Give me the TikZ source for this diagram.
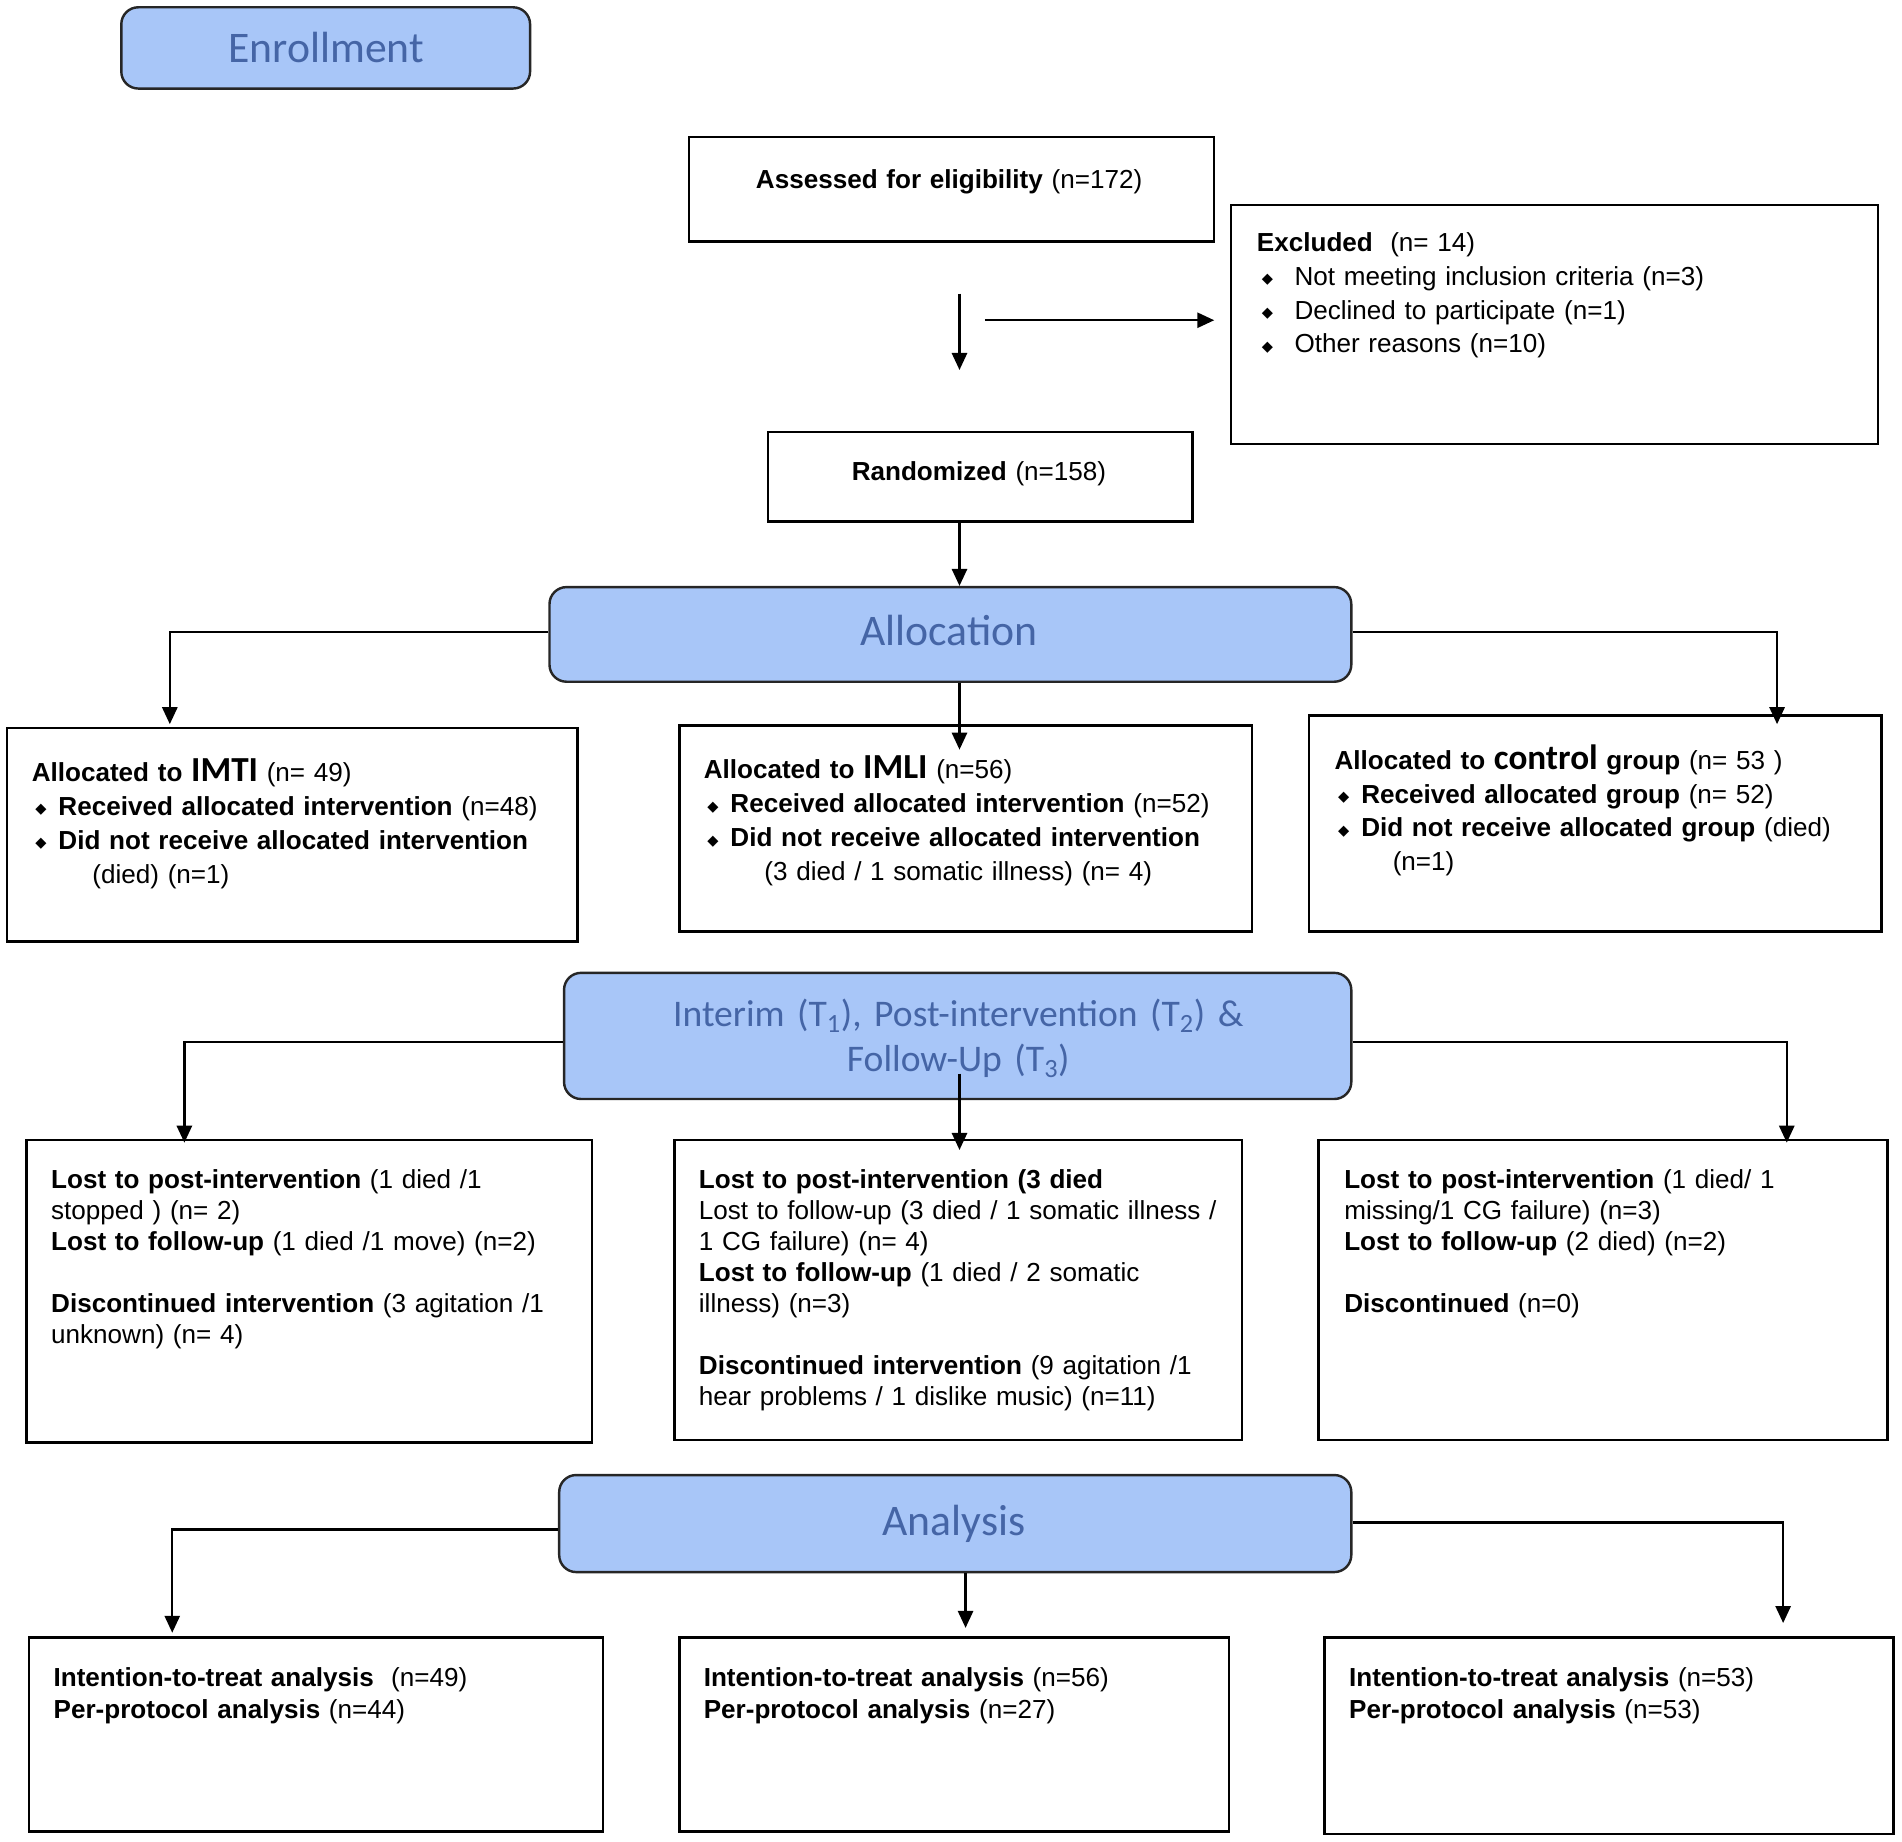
\documentclass[tikz,border=0pt]{standalone}
\usepackage{fontspec}
\setmainfont{Liberation Sans}
\newfontfamily\calfont{Carlito}
\newfontfamily\djv{DejaVu Sans}
\usetikzlibrary{arrows.meta,fit,calc}
\definecolor{hdrfill}{HTML}{A8C6F8}
\definecolor{hdrtext}{HTML}{4565A6}
\newcommand{\bul}[2]{\makebox[#2][l]{\hspace*{#1}\raisebox{1pt}{\djv\fontsize{12}{12}\selectfont ◆}}}
\newcommand{\bigcal}[1]{{\calfont\bfseries\fontsize{29}{28}\selectfont #1}}
\begin{document}
\begin{tikzpicture}[x=1pt,y=-1pt,
  box/.style={draw, line width=2pt, inner sep=0pt},
  hdr/.style={draw=black!85, line width=2pt, fill=hdrfill, rounded corners=14pt, inner sep=0pt},
  hdrtxt/.style={anchor=base, inner sep=0pt, text=hdrtext, font=\calfont\fontsize{36}{40}\selectfont},
  txt/.style={anchor=base west, inner sep=0pt, align=left, text width=620pt, font=\fontsize{21.5}{28}\selectfont},
  txtb/.style={txt, font=\fontsize{21.5}{25.5}\selectfont},
  conn/.style={line width=1.9pt},
  arr/.style={conn, -{Triangle[length=14pt,width=12.5pt]}}]
\useasboundingbox (0,0) rectangle (1568,1518.5);
% headers
\node[hdr, fit={(100,6) (437,73)}] (enroll) {};
\node[hdr, fit={(453,484) (1114,562)}] (alloc) {};
\node[hdr, fit={(465,802) (1114,906)}] (interim) {};
\node[hdr, fit={(461,1216) (1114,1296)}] (analysis) {};
\node[hdrtxt] (tenroll) at (269,51.5) {Enrollment};
\node[hdrtxt] (talloc) at (782.5,532.5) {Allocation};
\node[hdrtxt, text width=640pt, align=center, font=\calfont\fontsize{31}{37}\selectfont] (tinterim) at (790,846)
  {Interim (T\textsubscript{1}), Post-intervention (T\textsubscript{2}) \&\\Follow-Up (T\textsubscript{3})};
\node[hdrtxt] (tanalysis) at (786.5,1265.5) {Analysis};
% boxes
\node[box, fit={(568,113) (1001,199)}] (assess) {};
\node[box, fit={(1015,169) (1548,366)}] (excl) {};
\node[box, fit={(633,356) (983,430)}] (rand) {};
\node[box, fit={(6,600) (476,776)}] (imti) {};
\node[box, fit={(560,598) (1032,768)}] (imli) {};
\node[box, fit={(1079,590) (1551,768)}] (ctrl) {};
\node[box, fit={(22,940) (488,1189)}] (lostL) {};
\node[box, fit={(556,940) (1024,1187)}] (lostM) {};
\node[box, fit={(1087,940) (1556,1187)}] (lostR) {};
\node[box, fit={(24,1350) (497,1510)}] (anaL) {};
\node[box, fit={(560,1350) (1013,1510)}] (anaM) {};
\node[box, fit={(1092,1350) (1561,1512)}] (anaR) {};
% texts
\node[txt] (tassess) at (623,155) {\textbf{Assessed for eligibility} (n=172)};
\node[txt] (texcl) at (1036,207) {\textbf{Excluded}\ \ (n= 14)\\
\bul{4pt}{31pt}Not meeting inclusion criteria (n=3)\\
\bul{4pt}{31pt}Declined to participate (n=1)\\
\bul{4pt}{31pt}Other reasons (n=10)};
\node[txt] (trand) at (702,396) {\textbf{Randomized} (n=158)};
\node[txt] (timti) at (26,644) {\textbf{Allocated to }\bigcal{IMTI} (n= 49)\\
\bul{3pt}{22pt}\textbf{Received allocated intervention} (n=48)\\
\bul{3pt}{22pt}\textbf{Did not receive allocated intervention}\\
\hspace*{50pt}(died) (n=1)};
\node[txt] (timli) at (580,642) {\textbf{Allocated to }\bigcal{IMLI} (n=56)\\
\bul{3pt}{22pt}\textbf{Received allocated intervention} (n=52)\\
\bul{3pt}{22pt}\textbf{Did not receive allocated intervention}\\
\hspace*{50pt}(3 died / 1 somatic illness) (n= 4)};
\node[txt] (tctrl) at (1100,634) {\textbf{Allocated to }\bigcal{control}\textbf{ group} (n= 53 )\\
\bul{3pt}{22pt}\textbf{Received allocated group} (n= 52)\\
\bul{3pt}{22pt}\textbf{Did not receive allocated group} (died)\\
\hspace*{48pt}(n=1)};
\node[txtb] (tlostL) at (42,980) {\textbf{Lost to post-intervention} (1 died /1\\
stopped ) (n= 2)\\
\textbf{Lost to follow-up} (1 died /1 move) (n=2)\\[25.5pt]
\textbf{Discontinued intervention} (3 agitation /1\\
unknown) (n= 4)};
\node[txtb] (tlostM) at (576,980) {\textbf{Lost to post-intervention (3 died}\\
Lost to follow-up (3 died / 1 somatic illness /\\
1 CG failure) (n= 4)\\
\textbf{Lost to follow-up} (1 died / 2 somatic\\
illness) (n=3)\\[25.5pt]
\textbf{Discontinued intervention} (9 agitation /1\\
hear problems / 1 dislike music) (n=11)};
\node[txtb] (tlostR) at (1108,980) {\textbf{Lost to post-intervention} (1 died/ 1\\
missing/1 CG failure) (n=3)\\
\textbf{Lost to follow-up} (2 died) (n=2)\\[25.5pt]
\textbf{Discontinued} (n=0)};
\node[txt, font=\fontsize{21.5}{27}\selectfont] (tanaL) at (44,1390) {\textbf{Intention-to-treat analysis}\ \ (n=49)\\
\textbf{Per-protocol analysis} (n=44)};
\node[txt, font=\fontsize{21.5}{27}\selectfont] (tanaM) at (580,1390) {\textbf{Intention-to-treat analysis} (n=56)\\
\textbf{Per-protocol analysis} (n=27)};
\node[txt, font=\fontsize{21.5}{27}\selectfont] (tanaR) at (1112,1390) {\textbf{Intention-to-treat analysis} (n=53)\\
\textbf{Per-protocol analysis} (n=53)};
% free-end coordinates
\coordinate (v1s) at (791,242); \coordinate (v1e) at (791,305);
\coordinate (h1s) at (812,264); \coordinate (h1e) at (1001,264);
\coordinate (xmid) at (791,0);
\coordinate (a1) at (140,597); \coordinate (a2) at (1465,597); \coordinate (a3) at (791,618);
\coordinate (b1) at (152,942); \coordinate (b2) at (1473,942);
\coordinate (b3s) at (791,885); \coordinate (b3) at (791,948);
\coordinate (c1) at (142,1346); \coordinate (c2) at (1470,1338); \coordinate (c3) at (796,1342);
% connectors
\draw[arr] (v1s) -- (v1e);
\draw[arr] (h1s) -- (h1e);
\draw[arr] (rand.south -| xmid) -- (alloc.north -| xmid);
\draw[arr] ([yshift=2pt]alloc.west) -| (a1);
\draw[arr] ([yshift=2pt]alloc.east) -| (a2);
\draw[arr] (alloc.south -| xmid) -- (a3);
\draw[arr] ([yshift=-5pt]interim.west) -| (b1);
\draw[arr] ([yshift=-5pt]interim.east) -| (b2);
\draw[arr] (b3s) -- (b3);
\draw[arr] ([yshift=-5pt]analysis.west) -| (c1);
\draw[arr] ([yshift=1pt]analysis.east) -| (c2);
\draw[arr] (analysis.south -| c3) -- (c3);
\end{tikzpicture}
\end{document}
